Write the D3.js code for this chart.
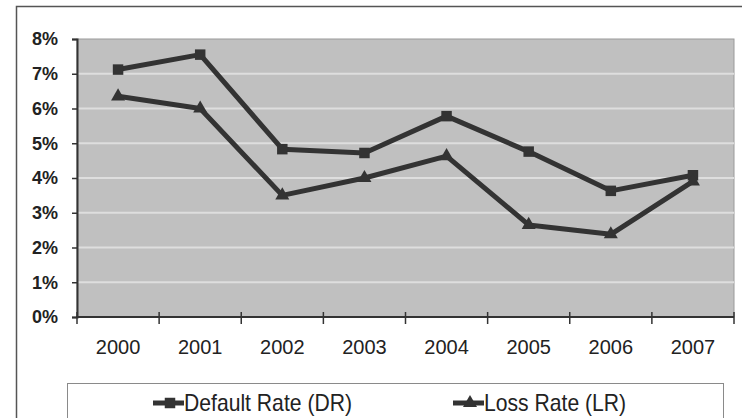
<!DOCTYPE html>
<html>
<head>
<meta charset="utf-8">
<script src="https://cdn.jsdelivr.net/npm/d3@7"></script>
<style>
  html, body { margin: 0; padding: 0; background: #fff; }
  svg { display: block; font-family: "Liberation Sans", Arial, sans-serif; }
</style>
</head>
<body>
<svg id="chart" width="742" height="418"></svg>
<script>
// Years on the category axis
const years = ["2000", "2001", "2002", "2003", "2004", "2005", "2006", "2007"];
// Annual default rate and loss rate, in percent
const defaultRate = [7.12, 7.55, 4.83, 4.72, 5.78, 4.76, 3.63, 4.08];
const lossRate = [6.35, 6.0, 3.5, 4.0, 4.63, 2.65, 2.38, 3.9];
// Percent ticks on the value axis
const yTicks = [0, 1, 2, 3, 4, 5, 6, 7, 8];
const seriesNames = ["Default Rate (DR)", "Loss Rate (LR)"];

const svg = d3.select("#chart");
const plot = { left: 77, right: 734, top: 39, bottom: 317 };

const x = d3.scaleBand().domain(years).range([plot.left, plot.right]).padding(0);
const y = d3.scaleLinear().domain([0, 8]).range([plot.bottom, plot.top]);
const cx = d => x(d) + x.bandwidth() / 2;

// Outer chart frame
svg.append("rect")
  .attr("x", 16.5).attr("y", 6.5).attr("width", 760).attr("height", 440)
  .attr("fill", "#fff").attr("stroke", "#555").attr("stroke-width", 1.5);

// Plot area
svg.append("rect")
  .attr("x", plot.left).attr("y", plot.top)
  .attr("width", plot.right - plot.left).attr("height", plot.bottom - plot.top)
  .attr("fill", "#c0c0c0").attr("stroke", "#9a9a9a").attr("stroke-width", 1);

// Horizontal gridlines
svg.append("g").selectAll("line")
  .data(yTicks.filter(t => t > 0 && t < 8))
  .join("line")
  .attr("x1", plot.left).attr("x2", plot.right)
  .attr("y1", d => y(d)).attr("y2", d => y(d))
  .attr("stroke", "#dedede").attr("stroke-width", 2);

// Value axis
const yAxis = svg.append("g")
  .attr("transform", `translate(${plot.left},0)`)
  .call(d3.axisLeft(y).tickValues(yTicks).tickFormat(d => d + "%").tickSize(5).tickPadding(14));
yAxis.select(".domain").attr("stroke", "#333").attr("stroke-width", 2);
yAxis.selectAll(".tick line").attr("stroke", "#333").attr("stroke-width", 1.5);
yAxis.selectAll(".tick text")
  .attr("font-size", 18).attr("font-weight", "bold").attr("fill", "#222")
  .attr("font-family", "'Liberation Sans', Arial, sans-serif");

// Category axis: labels centred in each band, ticks on the band edges
const xAxis = svg.append("g")
  .attr("transform", `translate(0,${plot.bottom})`)
  .call(d3.axisBottom(x).tickSize(0).tickPadding(23));
xAxis.select(".domain").remove();
xAxis.selectAll(".tick text")
  .attr("font-size", 20).attr("fill", "#222")
  .attr("font-family", "'Liberation Sans', Arial, sans-serif");

svg.append("line")
  .attr("x1", plot.left - 1).attr("x2", plot.right)
  .attr("y1", plot.bottom).attr("y2", plot.bottom)
  .attr("stroke", "#333").attr("stroke-width", 2);

const edges = years.map(d => x(d)).concat([x.range()[1]]);
svg.append("g").selectAll("line")
  .data(edges)
  .join("line")
  .attr("x1", d => d).attr("x2", d => d)
  .attr("y1", plot.bottom - 5).attr("y2", plot.bottom + 7)
  .attr("stroke", "#333").attr("stroke-width", 1.5);

// Series lines and markers
const line = d3.line().x((d, i) => cx(years[i])).y(d => y(d));
const lineColor = "#333";

svg.append("path").datum(defaultRate)
  .attr("d", line).attr("fill", "none")
  .attr("stroke", lineColor).attr("stroke-width", 5).attr("stroke-linejoin", "round");
svg.append("path").datum(lossRate)
  .attr("d", line).attr("fill", "none")
  .attr("stroke", lineColor).attr("stroke-width", 5).attr("stroke-linejoin", "round");

const square = d3.symbol().type(d3.symbolSquare).size(110);
const triangle = d3.symbol().type(d3.symbolTriangle).size(85);

svg.append("g").selectAll("path")
  .data(defaultRate)
  .join("path")
  .attr("d", square)
  .attr("transform", (d, i) => `translate(${cx(years[i])},${y(d)})`)
  .attr("fill", lineColor);

svg.append("g").selectAll("path")
  .data(lossRate)
  .join("path")
  .attr("d", triangle)
  .attr("transform", (d, i) => `translate(${cx(years[i])},${y(d)})`)
  .attr("fill", lineColor);

// Legend
svg.append("rect")
  .attr("x", 67.5).attr("y", 383.5).attr("width", 656).attr("height", 60)
  .attr("fill", "#fff").attr("stroke", "#8a8a8a").attr("stroke-width", 1);

const legendItems = [
  { name: seriesNames[0], x0: 153, marker: square },
  { name: seriesNames[1], x0: 453, marker: triangle }
];
const lg = svg.append("g").selectAll("g").data(legendItems).join("g");
lg.append("line")
  .attr("x1", d => d.x0).attr("x2", d => d.x0 + 31)
  .attr("y1", 403).attr("y2", 403)
  .attr("stroke", lineColor).attr("stroke-width", 5);
lg.append("path")
  .attr("d", d => d.marker())
  .attr("transform", d => `translate(${d.x0 + 17},403)`)
  .attr("fill", lineColor);
lg.append("text")
  .attr("transform", d => `translate(${d.x0 + 31},411) scale(0.92,1)`)
  .attr("font-size", 23).attr("fill", "#222")
  .text(d => d.name);
</script>
</body>
</html>
